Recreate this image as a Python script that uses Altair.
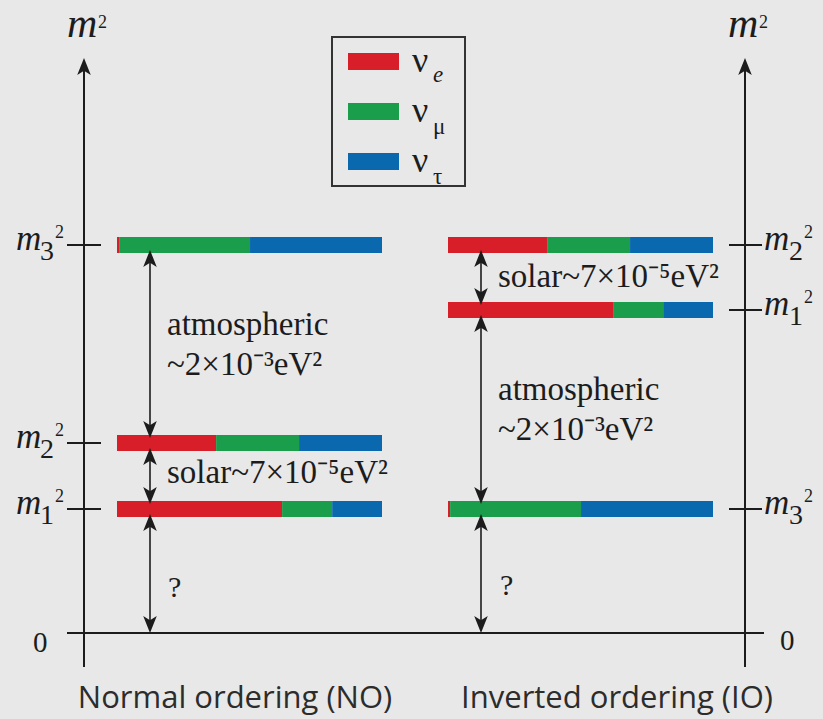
import altair as alt
import pandas as pd

# ------------------------------------------------------------------ data
flavour_subs = ["e", "μ", "τ"]
flavour_italic = [True, False, False]
flavour_colours = ["#d81f29", "#1b9e4b", "#0968ae"]

mass_states = ["1", "2", "3"]
# flavour content of each mass state (fraction of the bar length)
frac_e = [0.623, 0.374, 0.008]
frac_mu = [0.189, 0.313, 0.494]
frac_tau = [0.188, 0.313, 0.498]

# schematic m^2 levels (not to scale), same units as the vertical scale
levels_no = [1.24, 1.90, 3.88]
levels_io = [3.23, 3.88, 1.24]

ordering_labels = ["Normal ordering (NO)", "Inverted ordering (IO)"]
atm_text = ["atmospheric", "~2×10⁻³eV²"]
solar_text = "solar~7×10⁻⁵eV²"
unknown_text = "?"
zero_text = "0"

# ------------------------------------------------------------------ layout (styling)
W, H = 823, 719
Y0 = 633.0        # where m^2 = 0 sits
UNIT = 100.0      # layout pixels per level unit
Y_MIN, Y_MAX = (Y0 - H) / UNIT, Y0 / UNIT


def v(px):
    """convert a layout row (from top) into level units"""
    return (Y0 - px) / UNIT


BAR_LEN = 265
BAR_HALF = 0.08
TIP_IN = 0.05
INK = "#1c1c1c"
SERIF = "Liberation Serif"

panels = [
    dict(levels=levels_no, axis_x=84, tick=(67, 101), bar_x0=117, arrow_x=150,
         label_x=16, label_dx=(24, 39), title_x=67, title_y=37, order_x=235,
         zero_x=33, zero_y=652, q_x=168, q_y=597),
    dict(levels=levels_io, axis_x=745, tick=(729, 762), bar_x0=448, arrow_x=481,
         label_x=764, label_dx=(25, 40), title_x=728, title_y=37, order_x=617,
         zero_x=780, zero_y=650, q_x=500, q_y=595),
]

xs = alt.Scale(domain=[0, W], nice=False, zero=False)
ys = alt.Scale(domain=[Y_MIN, Y_MAX], nice=False, zero=False)


def X(f):
    return alt.X(f, type="quantitative", scale=xs, axis=None)


def Y(f):
    return alt.Y(f, type="quantitative", scale=ys, axis=None)


# ------------------------------------------------------------------ tables
bar_rows, rule_rows, head_rows = [], [], []
lab_rows, title_rows, zero_rows, q_rows, order_rows = [], [], [], [], []
fracs = [frac_e, frac_mu, frac_tau]

for pi, p in enumerate(panels):
    lv = p["levels"]
    # bars
    for si, s in enumerate(mass_states):
        start = 0.0
        for fi, f in enumerate(flavour_subs):
            fr = fracs[fi][si]
            bar_rows.append(dict(x=p["bar_x0"] + start * BAR_LEN,
                                 x2=p["bar_x0"] + (start + fr) * BAR_LEN,
                                 y=lv[si] - BAR_HALF, y2=lv[si] + BAR_HALF, flav=f))
            start += fr
        # ticks
        rule_rows.append(dict(x=p["tick"][0], x2=p["tick"][1], y=lv[si], y2=lv[si], w=2.0))
        lab_rows.append(dict(x=p["label_x"], y=lv[si], sub=s,
                             xsub=p["label_x"] + p["label_dx"][0],
                             xsup=p["label_x"] + p["label_dx"][1]))
    # vertical axis with arrow head
    top = v(58)
    rule_rows.append(dict(x=p["axis_x"], x2=p["axis_x"], y=v(667), y2=top - 0.1, w=2.0))
    head_rows.append(dict(x=p["axis_x"], y=top, dir="up"))
    title_rows.append(dict(x=p["title_x"], y=v(p["title_y"])))
    zero_rows.append(dict(x=p["zero_x"], y=v(p["zero_y"]), t=zero_text))
    q_rows.append(dict(x=p["q_x"], y=v(p["q_y"]), t=unknown_text))
    order_rows.append(dict(x=p["order_x"], y=v(708), t=ordering_labels[pi]))
    # gap arrows between consecutive levels (top to bottom), last one down to zero
    order = sorted(range(3), key=lambda i: -lv[i])
    stops = [lv[i] for i in order] + [0.0]
    for a, b in zip(stops[:-1], stops[1:]):
        ytop = a - TIP_IN
        ybot = b + TIP_IN if b > 0 else 0.0
        rule_rows.append(dict(x=p["arrow_x"], x2=p["arrow_x"], y=ybot + 0.08, y2=ytop - 0.08, w=1.6))
        head_rows.append(dict(x=p["arrow_x"], y=ytop, dir="up"))
        head_rows.append(dict(x=p["arrow_x"], y=ybot, dir="down"))

# zero line
rule_rows.append(dict(x=67, x2=764, y=0.0, y2=0.0, w=2.0))

bars = pd.DataFrame(bar_rows)
rules = pd.DataFrame(rule_rows)
heads = pd.DataFrame(head_rows)
labs = pd.DataFrame(lab_rows)
titles = pd.DataFrame(title_rows)
zeros = pd.DataFrame(zero_rows)
qs = pd.DataFrame(q_rows)
orders = pd.DataFrame(order_rows)

annots = pd.DataFrame([
    dict(x=167, y=v(335), t=atm_text[0]),
    dict(x=167, y=v(375), t=atm_text[1]),
    dict(x=167, y=v(483), t=solar_text),
    dict(x=498, y=v(287), t=solar_text),
    dict(x=498, y=v(400), t=atm_text[0]),
    dict(x=498, y=v(440), t=atm_text[1]),
])

legend_box = pd.DataFrame([dict(x=332, x2=465, y=v(37), y2=v(186))])
leg_rows = []
for i, f in enumerate(flavour_subs):
    cy = 61.5 + 50 * i
    leg_rows.append(dict(x=348, x2=399, y=v(cy - 8.5), y2=v(cy + 8.5), flav=f,
                         tx=412, ty=v(cy + 10.5), sub=f, it=flavour_italic[i]))
legend = pd.DataFrame(leg_rows)

colour = alt.Color("flav:N", scale=alt.Scale(domain=flavour_subs, range=flavour_colours), legend=None)

UP = "M0,0 L-0.4,1 L0,0.75 L0.4,1 Z"
DOWN = "M0,0 L-0.4,-1 L0,-0.75 L0.4,-1 Z"

# ------------------------------------------------------------------ layers
rule_layer = alt.Chart(rules).mark_rule(color=INK).encode(
    x=X("x"), x2=alt.X2("x2"), y=Y("y"), y2=alt.Y2("y2"),
    strokeWidth=alt.StrokeWidth("w:Q", scale=None, legend=None))

bar_layer = alt.Chart(bars).mark_rect().encode(
    x=X("x"), x2=alt.X2("x2"), y=Y("y"), y2=alt.Y2("y2"), color=colour)

head_layer = alt.Chart(heads).mark_point(filled=True, opacity=1, size=1150, color=INK, strokeWidth=0).encode(
    x=X("x"), y=Y("y"),
    shape=alt.Shape("dir:N", scale=alt.Scale(domain=["up", "down"], range=[UP, DOWN]), legend=None))

lab_m = alt.Chart(labs).mark_text(text="m", font=SERIF, fontStyle="italic", fontSize=35,
                                  align="left", baseline="alphabetic", dy=5, color=INK).encode(
    x=X("x"), y=Y("y"))
lab_sub = alt.Chart(labs).mark_text(font=SERIF, fontSize=28, align="left", baseline="alphabetic",
                                    dy=15, color=INK).encode(
    x=X("xsub"), y=Y("y"), text="sub:N")
lab_sup = alt.Chart(labs).mark_text(text="2", font=SERIF, fontSize=18, align="left", baseline="alphabetic",
                                    dy=-7, color=INK).encode(
    x=X("xsup"), y=Y("y"))

title_m = alt.Chart(titles).mark_text(text="m", font=SERIF, fontStyle="italic", fontSize=42,
                                      align="left", baseline="alphabetic", color=INK).encode(
    x=X("x"), y=Y("y"))
title_sup = alt.Chart(titles).mark_text(text="2", font=SERIF, fontSize=18, align="left",
                                        baseline="alphabetic", dx=31, dy=-9, color=INK).encode(
    x=X("x"), y=Y("y"))

zero_layer = alt.Chart(zeros).mark_text(font=SERIF, fontSize=29, align="left", baseline="alphabetic",
                                        color=INK).encode(x=X("x"), y=Y("y"), text="t:N")
q_layer = alt.Chart(qs).mark_text(font=SERIF, fontSize=30, align="left", baseline="alphabetic",
                                  color=INK).encode(x=X("x"), y=Y("y"), text="t:N")
annot_layer = alt.Chart(annots).mark_text(font=SERIF, fontSize=33, align="left", baseline="alphabetic",
                                          color=INK).encode(x=X("x"), y=Y("y"), text="t:N")
order_layer = alt.Chart(orders).mark_text(font="Open Sans", fontSize=31, align="center",
                                          baseline="alphabetic", color="#2c2c2c").encode(
    x=X("x"), y=Y("y"), text="t:N")

box_layer = alt.Chart(legend_box).mark_rect(fill=None, stroke="#333333", strokeWidth=2).encode(
    x=X("x"), x2=alt.X2("x2"), y=Y("y"), y2=alt.Y2("y2"))
swatch_layer = alt.Chart(legend).mark_rect().encode(
    x=X("x"), x2=alt.X2("x2"), y=Y("y"), y2=alt.Y2("y2"), color=colour)
nu_layer = alt.Chart(legend).mark_text(text="ν", font=SERIF, fontSize=36, align="left",
                                       baseline="alphabetic", color=INK).encode(
    x=X("tx"), y=Y("ty"))
sub_it = alt.Chart(legend).transform_filter("datum.it").mark_text(
    font=SERIF, fontSize=23, fontStyle="italic", align="left", baseline="alphabetic",
    dx=21, dy=10, color=INK).encode(x=X("tx"), y=Y("ty"), text="sub:N")
sub_up = alt.Chart(legend).transform_filter("!datum.it").mark_text(
    font=SERIF, fontSize=23, align="left", baseline="alphabetic",
    dx=21, dy=12, color=INK).encode(x=X("tx"), y=Y("ty"), text="sub:N")

chart = alt.layer(
    rule_layer, bar_layer, head_layer,
    lab_m, lab_sub, lab_sup, title_m, title_sup,
    zero_layer, q_layer, annot_layer, order_layer,
    box_layer, swatch_layer, nu_layer, sub_it, sub_up,
).properties(
    width=W, height=H, background="#e8e8e8", padding=0,
    autosize=alt.AutoSizeParams(type="none"),
).configure_view(stroke=None)

chart.save("out.html", embed_options={"renderer": "svg", "actions": False})
